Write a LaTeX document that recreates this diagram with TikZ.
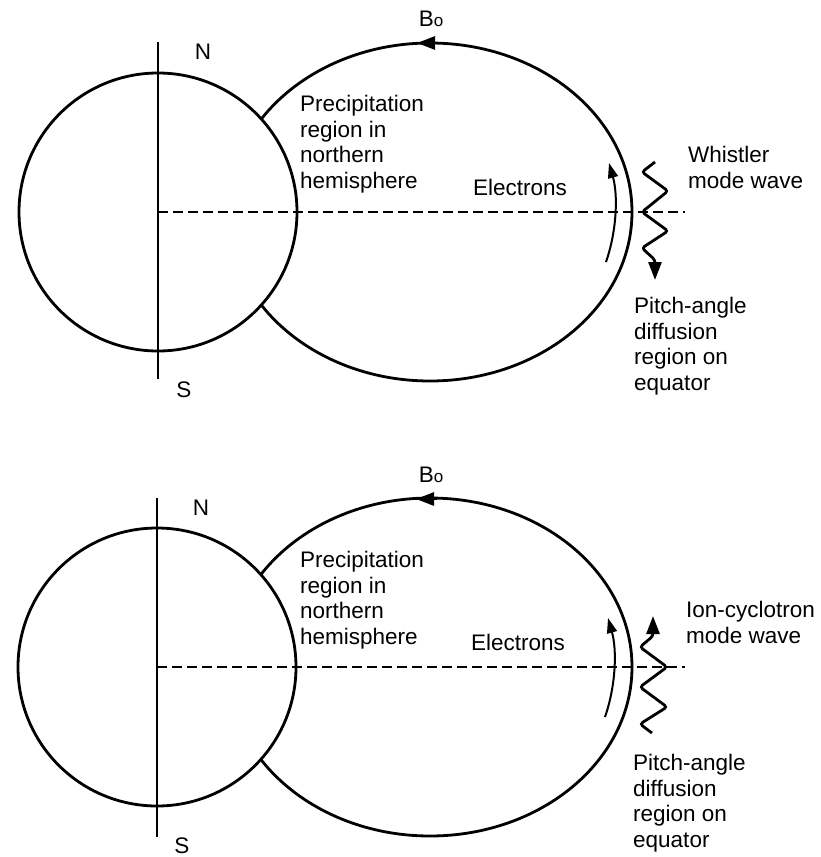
\documentclass[tikz,border=0pt]{standalone}
\usepackage{fontspec}
\setmainfont{Liberation Sans}
\usetikzlibrary{arrows.meta}
\tikzset{
  earth/.style={
    circle, draw=black, line width=2.8pt, fill=white,
    minimum size=278pt, inner sep=0pt
  },
  fieldline/.style={draw=black, line width=2.8pt},
  axisline/.style={draw=black, line width=2.8pt},
  equator/.style={draw=black, line width=2.4pt, dash pattern=on 10pt off 5pt},
  wave/.style={draw=black, line width=2.8pt, rounded corners=3pt},
  drift/.style={-{Triangle[length=15pt,width=10pt]}, draw=black, line width=2pt},
  tip/.style={-{Triangle[length=18pt,width=13pt]}},
  txt/.style={inner sep=0pt, font=\fontsize{22.5}{25.5}\selectfont, align=left}
}

\begin{document}
\begin{tikzpicture}[x=1pt,y=-1pt]
  \useasboundingbox (0,0) rectangle (820,857);

  % upper panel: whistler mode wave
  \draw[fieldline] (430,212) ellipse [x radius=202, y radius=169];
  \node[earth] (earth1) at (158,212) {};
  \coordinate (axtop1) at (158,42);
  \coordinate (axbot1) at (158,379);
  \coordinate (eqend1) at (685,212);
  \draw[axisline] (axtop1) -- (axbot1);
  \draw[equator] (earth1.center) -- (eqend1);
  \draw[fieldline,tip] (438,43) -- (417,43);
  \draw[drift] (606,262) .. controls (617,230) and (618,195) .. (609,163);
  \draw[wave,tip] (655,162) -- (642,172) -- (668,191) -- (642,212)
    -- (668,231) -- (642,248) -- (655,260) -- (655,280);
  \node[txt,anchor=base] (bo1) at (431,26) {B{\fontsize{17}{17}\selectfont o}};
  \node[txt,anchor=base] (n1) at (203,59) {N};
  \node[txt,anchor=base] (s1) at (184,397) {S};
  \node[txt,anchor=north west] (precip1) at (300,95)
    {Precipitation\\region in\\northern\\hemisphere};
  \node[txt,anchor=base west] (elec1) at (473,195) {Electrons};
  \node[txt,anchor=north west] (mode1) at (688,146) {Whistler\\mode wave};
  \node[txt,anchor=north west] (pitch1) at (634,297)
    {Pitch-angle\\diffusion\\region on\\equator};

  % lower panel: ion-cyclotron mode wave
  \draw[fieldline] (430,667) ellipse [x radius=202, y radius=169];
  \node[earth] (earth2) at (157,667) {};
  \coordinate (axtop2) at (157,498);
  \coordinate (axbot2) at (157,837);
  \coordinate (eqend2) at (685,667);
  \draw[axisline] (axtop2) -- (axbot2);
  \draw[equator] (earth2.center) -- (eqend2);
  \draw[fieldline,tip] (437,499) -- (416,499);
  \draw[drift] (605,717) .. controls (616,685) and (617,650) .. (608,618);
  \draw[wave,{Triangle[length=18pt,width=13pt]}-] (653,616) -- (653,636)
    -- (640,647) -- (667,667) -- (640,687) -- (667,707) -- (640,724) -- (652,733);
  \node[txt,anchor=base] (bo2) at (431,482) {B{\fontsize{17}{17}\selectfont o}};
  \node[txt,anchor=base] (n2) at (201,515) {N};
  \node[txt,anchor=base] (s2) at (182,853) {S};
  \node[txt,anchor=north west] (precip2) at (300,551)
    {Precipitation\\region in\\northern\\hemisphere};
  \node[txt,anchor=base west] (elec2) at (471,650) {Electrons};
  \node[txt,anchor=north west] (mode2) at (686,601) {Ion-cyclotron\\mode wave};
  \node[txt,anchor=north west] (pitch2) at (633,754)
    {Pitch-angle\\diffusion\\region on\\equator};
\end{tikzpicture}
\end{document}
